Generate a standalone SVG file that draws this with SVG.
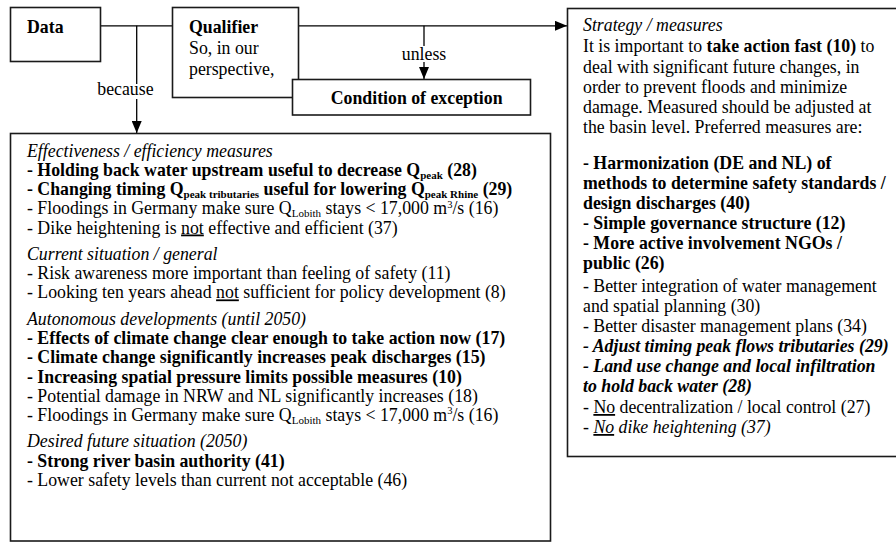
<svg xmlns="http://www.w3.org/2000/svg" width="896" height="542" viewBox="0 0 896 542">
<style>
.t{font-family:"Liberation Serif","Times New Roman",serif;font-size:17.8px;fill:#000}
.b{font-weight:bold}
.i{font-style:italic}
.box{fill:#fff;stroke:#1a1a1a;stroke-width:1.6}
.conn{stroke:#000;stroke-width:1.3;fill:none}
.u{text-decoration:underline}
.sub{font-size:11px}
.sup{font-size:10.5px}
</style>
<defs>
<marker id="ah" viewBox="0 0 12 10" refX="12" refY="5" markerWidth="12" markerHeight="10" markerUnits="userSpaceOnUse" orient="auto">
<path d="M0,0 L12,5 L0,10 Z" fill="#000"/>
</marker>
</defs>
<rect x="0" y="0" width="896" height="542" fill="#fff"/>

<g id="connectors">
<path class="conn" d="M100.5,25.8 H172.5"/>
<path class="conn" d="M298.5,25.8 H567" marker-end="url(#ah)"/>
<path class="conn" d="M136.7,25.8 V84"/>
<path class="conn" d="M136.7,99 V133" marker-end="url(#ah)"/>
<path class="conn" d="M424,25.8 V46"/>
<path class="conn" d="M424,62 V79" marker-end="url(#ah)"/>
<text class="t" x="125.4" y="95" text-anchor="middle">because</text>
<text class="t" x="424" y="60" text-anchor="middle">unless</text>
</g>

<g id="data">
<rect class="box" x="10.5" y="7.5" width="90" height="54"/>
<text class="t b" x="27" y="33">Data</text>
</g>

<g id="qualifier">
<rect class="box" x="172.5" y="7.5" width="126" height="90"/>
<text class="t b" x="189" y="33">Qualifier</text>
<text class="t" x="189" y="54">So, in our</text>
<text class="t" x="189" y="75">perspective,</text>
</g>

<g id="exception">
<rect class="box" x="292.5" y="79.5" width="238" height="35.5"/>
<text class="t b" x="330.7" y="104">Condition of exception</text>
</g>

<g id="grounds">
<rect class="box" x="10.5" y="133.5" width="540" height="407.5"/>
<text class="t i" x="27" y="156.7">Effectiveness / efficiency measures</text>
<text class="t b" x="27" y="175.9">- Holding back water upstream useful to decrease Q<tspan class="sub" dy="3">peak</tspan><tspan dy="-3"> (28)</tspan></text>
<text class="t b" x="27" y="195.1">- Changing timing Q<tspan class="sub" dy="3">peak tributaries</tspan><tspan dy="-3"> useful for lowering Q</tspan><tspan class="sub" dy="3">peak Rhine</tspan><tspan dy="-3"> (29)</tspan></text>
<text class="t" x="27" y="214.3">- Floodings in Germany make sure Q<tspan class="sub" dy="3">Lobith</tspan><tspan dy="-3"> stays &lt; 17,000 m</tspan><tspan class="sup" dy="-6.5">3</tspan><tspan dy="6.5">/s (16)</tspan></text>
<text class="t" x="27" y="233.5">- Dike heightening is <tspan class="u">not</tspan> effective and efficient (37)</text>

<text class="t i" x="27" y="260">Current situation / general</text>
<text class="t" x="27" y="279.2">- Risk awareness more important than feeling of safety (11)</text>
<text class="t" x="27" y="298.4">- Looking ten years ahead <tspan class="u">not</tspan> sufficient for policy development (8)</text>

<text class="t i" x="27" y="324.9">Autonomous developments (until 2050)</text>
<text class="t b" x="27" y="344.1">- Effects of climate change clear enough to take action now (17)</text>
<text class="t b" x="27" y="363.3">- Climate change significantly increases peak discharges (15)</text>
<text class="t b" x="27" y="382.5">- Increasing spatial pressure limits possible measures (10)</text>
<text class="t" x="27" y="401.7">- Potential damage in NRW and NL significantly increases (18)</text>
<text class="t" x="27" y="420.9">- Floodings in Germany make sure Q<tspan class="sub" dy="3">Lobith</tspan><tspan dy="-3"> stays &lt; 17,000 m</tspan><tspan class="sup" dy="-6.5">3</tspan><tspan dy="6.5">/s (16)</tspan></text>

<text class="t i" x="27" y="447.4">Desired future situation (2050)</text>
<text class="t b" x="27" y="466.6">- Strong river basin authority (41)</text>
<text class="t" x="27" y="485.8">- Lower safety levels than current not acceptable (46)</text>
</g>

<g id="claim">
<rect class="box" x="567.5" y="8.5" width="340" height="448"/>
<text class="t i" x="583" y="31">Strategy / measures</text>
<text class="t" x="583" y="52">It is important to <tspan class="b">take action fast (10)</tspan> to</text>
<text class="t" x="583" y="72.5">deal with significant future changes, in</text>
<text class="t" x="583" y="92.5">order to prevent floods and minimize</text>
<text class="t" x="583" y="112.5">damage. Measured should be adjusted at</text>
<text class="t" x="583" y="132.5">the basin level. Preferred measures are:</text>
<text class="t b" x="583" y="169">- Harmonization (DE and NL) of</text>
<text class="t b" x="583" y="189">methods to determine safety standards /</text>
<text class="t b" x="583" y="209">design discharges (40)</text>
<text class="t b" x="583" y="229">- Simple governance structure (12)</text>
<text class="t b" x="583" y="249">- More active involvement NGOs /</text>
<text class="t b" x="583" y="269">public (26)</text>
<text class="t" x="583" y="292">- Better integration of water management</text>
<text class="t" x="583" y="312">and spatial planning (30)</text>
<text class="t" x="583" y="332">- Better disaster management plans (34)</text>
<text class="t b i" x="583" y="352">- Adjust timing peak flows tributaries (29)</text>
<text class="t b i" x="583" y="372">- Land use change and local infiltration</text>
<text class="t b i" x="583" y="392">to hold back water (28)</text>
<text class="t" x="583" y="413">- <tspan class="u">No</tspan> decentralization / local control (27)</text>
<text class="t i" x="583" y="433">- <tspan class="u">No</tspan> dike heightening (37)</text>
</g>
</svg>
